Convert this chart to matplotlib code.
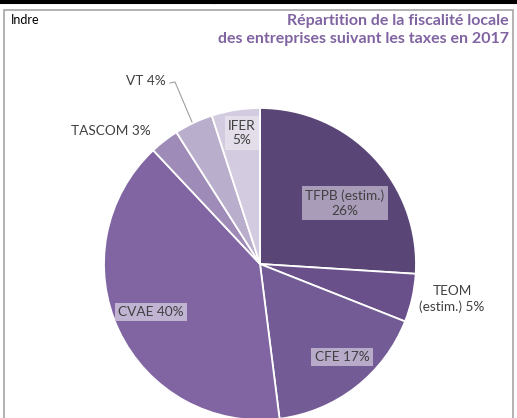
import matplotlib.pyplot as plt
from matplotlib.patches import Rectangle
from matplotlib.lines import Line2D

# Donnees (part en %)
labels = ["TFPB (estim.)", "TEOM (estim.)", "CFE", "CVAE", "TASCOM", "VT", "IFER"]
values = [26, 5, 17, 40, 3, 4, 5]
colors = ["#5a4676", "#6a508b", "#735b96", "#8065a2", "#9f8bb7", "#b9aecc", "#d3cce0"]

title_text = "Répartition de la fiscalité locale\ndes entreprises suivant les taxes en 2017"
zone = "Indre"

plt.rcParams["font.family"] = ["Lato", "DejaVu Sans"]

W, H = 517, 418
fig = plt.figure(figsize=(W / 100, H / 100), dpi=100)
ax = fig.add_axes([0, 0, 1, 1])

# Centre et rayon en pixels (repere y vers le haut)
cx, cy, r = 260, H - 264, 156
wedges, _ = ax.pie(values, colors=colors, startangle=90, counterclock=False,
                   center=(cx, cy), radius=r,
                   wedgeprops={"edgecolor": "white", "linewidth": 1.3})
ax.set_xlim(0, W)
ax.set_ylim(0, H)
ax.set_aspect("auto")
ax.axis("off")

def y(py):
    return H - py

# Etiquettes dans les parts (avec boite)
inside = [
    (f"{labels[0]}\n{values[0]}%", 345, 203, "#a99cb9"),
    (f"{labels[2]} {values[2]}%", 342, 357, "#b8abca"),
    (f"{labels[3]} {values[3]}%", 151, 312, "#c1b4d3"),
    (f"{labels[6].split()[0]}\n{values[6]}%", 242, 133, "#e3dee9"),
]
for txt, px, py, bc in inside:
    ax.text(px, y(py), txt, ha="center", va="center", fontsize=9.8,
            color="#404040", linespacing=1.3,
            bbox=dict(boxstyle="square,pad=0.25", fc=bc, ec="none"))

# Etiquettes exterieures
ax.text(452, y(299), f"TEOM\n(estim.) {values[1]}%", ha="center", va="center",
        fontsize=9.8, color="#404040", linespacing=1.3)
ax.text(111, y(131), f"{labels[4]} {values[4]}%", ha="center", va="center",
        fontsize=9.8, color="#404040")
ax.text(146, y(81), f"{labels[5]} {values[5]}%", ha="center", va="center",
        fontsize=9.8, color="#404040")
ax.add_line(Line2D([170, 175, 192], [y(83), y(82), y(122)], color="#a0a0a0", lw=0.8))

# Titre et zone
ax.text(509, y(30), title_text, ha="right", va="center", fontsize=11.5,
        fontweight="bold", color="#8064a2", linespacing=1.35)
ax.text(11, y(20), zone, ha="left", va="center", fontsize=9, color="black")

# Cadre et lignes du tableau au-dessus
ax.add_patch(Rectangle((3.5, -5), 509.5, y(9.5) + 5, fill=False, ec="#a6a6a6", lw=1.2))
ax.add_line(Line2D([0, W], [y(0.5), y(0.5)], color="black", lw=1.5))
ax.add_line(Line2D([0, W], [y(3), y(3)], color="black", lw=1.5))
ax.add_line(Line2D([215, 215], [y(0), y(3)], color="black", lw=0.8))

fig.savefig("out.png", dpi=100)
